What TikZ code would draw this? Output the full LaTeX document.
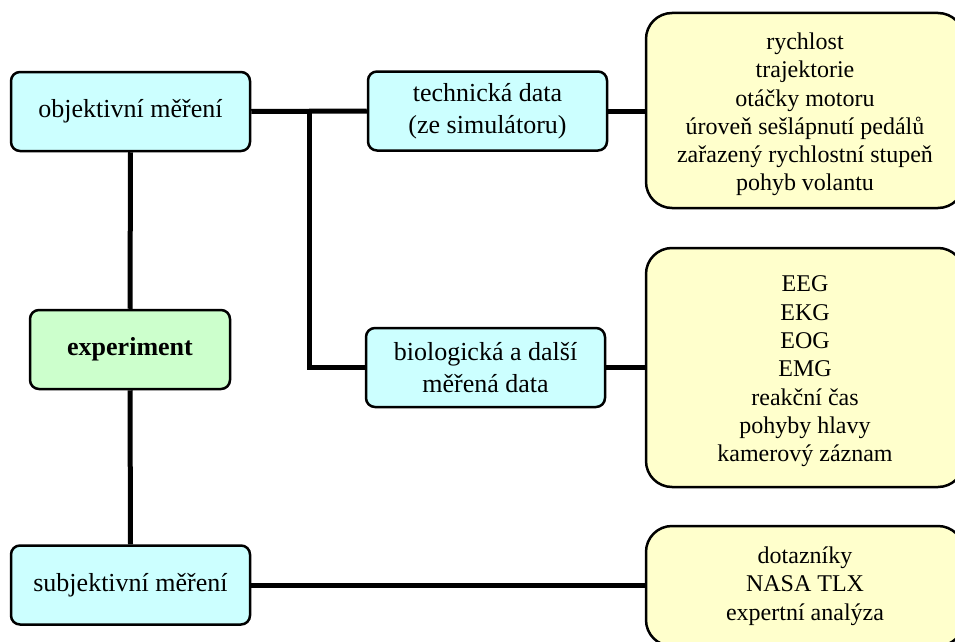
\documentclass[tikz,border=0pt]{standalone}
\usepackage{fontspec}
\setmainfont{Liberation Serif}
\definecolor{boxcyan}{HTML}{CCFFFF}
\definecolor{boxgreen}{HTML}{CCFFCC}
\definecolor{boxyellow}{HTML}{FFFFCC}
\begin{document}
\begin{tikzpicture}[x=1pt,y=-1pt,
  base/.style={draw=black, line width=2.5pt, align=center, inner sep=0pt},
  bluebox/.style={base, fill=boxcyan, rounded corners=9pt, minimum width=239pt, minimum height=79pt,
    font=\fontsize{26}{31.5}\selectfont},
  greenbox/.style={base, fill=boxgreen, rounded corners=9pt, minimum width=200pt, minimum height=79pt,
    font=\fontsize{26}{31.5}\selectfont\bfseries},
  yellowbox/.style={base, fill=boxyellow, rounded corners=26pt, minimum width=318pt},
  ytext/.style={align=center, inner sep=0pt, yshift=-4pt, font=\fontsize{24}{28.3}\selectfont},
  conn/.style={line width=5pt}]
\useasboundingbox (0,0) rectangle (955,642);
\clip (0,0) rectangle (955,642);
% nodes
\node[bluebox] (obj) at (130.5,111.5) {objektivní měření};
\node[greenbox] (exp) at (130,349.5) {experiment};
\node[bluebox] (subj) at (130.5,585) {subjektivní měření};
\node[bluebox] (tech) at (487.5,111) {technická data\\(ze simulátoru)};
\node[bluebox] (bio) at (485.5,367.5) {biologická a další\\měřená data};
\node[yellowbox, minimum height=195pt,
  label={[ytext]center:{rychlost\\trajektorie\\otáčky motoru\\úroveň sešlápnutí pedálů\\zařazený rychlostní stupeň\\pohyb volantu}}]
  (y1) at (805,110.5) {};
\node[yellowbox, minimum height=239pt,
  label={[ytext]center:{EEG\\EKG\\EOG\\EMG\\reakční čas\\pohyby hlavy\\kamerový záznam}}]
  (y2) at (805,367.5) {};
\node[yellowbox, minimum height=120pt,
  label={[ytext, yshift=4pt]center:{dotazníky\\NASA TLX\\expertní analýza}}]
  (y3) at (805,586) {};
\coordinate (br) at (309,111);
% connectors
\draw[conn] (obj.south) -- (exp.north);
\draw[conn] (exp.south) -- (subj.north);
\draw[conn] (obj.east) -- (tech.west);
\draw[conn, line join=miter] (br) |- (bio.west);
\draw[conn] (tech.east) -- (tech.east -| y1.west);
\draw[conn] (bio.east) -- (bio.east -| y2.west);
\draw[conn] (subj.east) -- (subj.east -| y3.west);
\end{tikzpicture}
\end{document}
